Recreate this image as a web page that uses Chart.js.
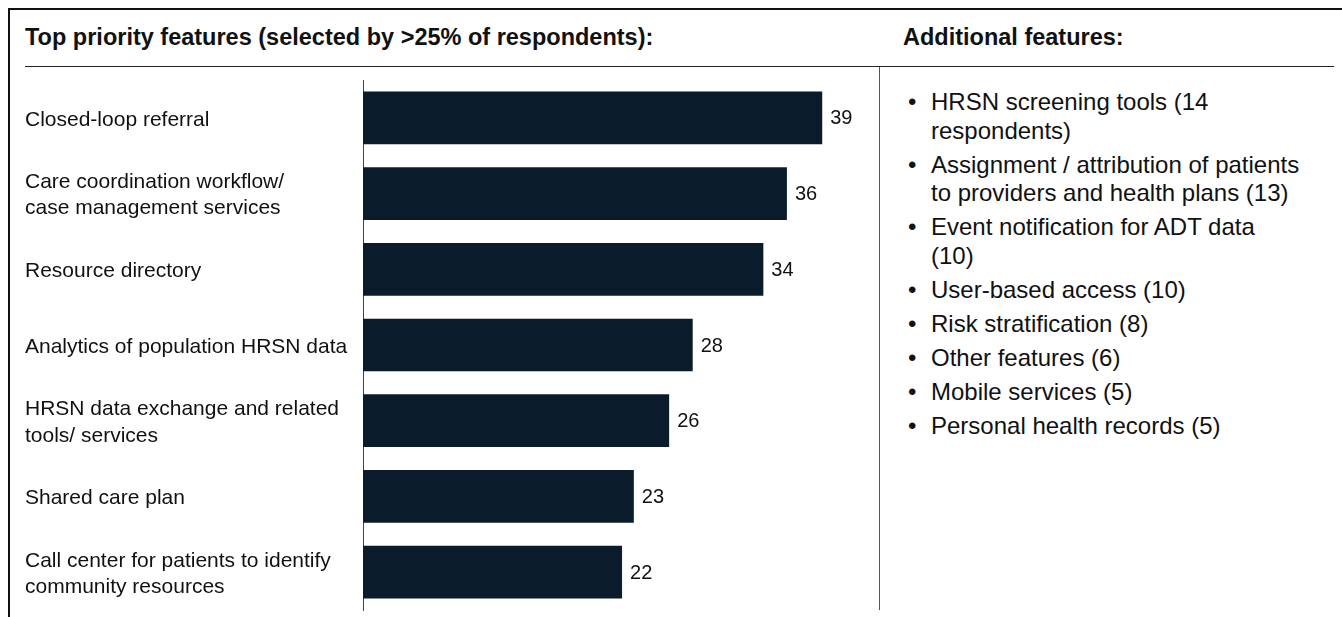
<!DOCTYPE html>
<html>
<head>
<meta charset="utf-8">
<script src="https://cdn.jsdelivr.net/npm/chart.js@4.4.1/dist/chart.umd.min.js"></script>
<title>Features</title>
<style>
  body { margin: 0; background: #fff; font-family: "Liberation Sans", Arial, sans-serif; color: #111; }
  #page { position: relative; width: 1342px; height: 617px; overflow: hidden; }
  #frame { position: absolute; left: 8px; top: 8px; right: -10px; bottom: -10px;
           border-top: 2px solid #111; border-left: 2px solid #111; }
  .head { position: absolute; top: 26px; font-size: 23.5px; line-height: 23px; font-weight: bold; white-space: nowrap; }
  #rule { position: absolute; left: 25px; top: 66px; width: 1309px; height: 1px; background: #222; }
  #divider { position: absolute; left: 879px; top: 67px; width: 1px; height: 543px; background: #555; }
  #chartBox { position: absolute; left: 0; top: 0; }
  #extra { position: absolute; left: 931px; top: 88px; margin: 0; padding: 0; list-style: none;
           font-size: 24px; line-height: 28.5px; white-space: nowrap; }
  #extra li { position: relative; margin-bottom: 5.5px; }
  #extra li::before { content: "\2022"; position: absolute; left: -23px; }
</style>
</head>
<body>
<div id="page">
  <div id="frame"></div>
  <div class="head" style="left:25px">Top priority features (selected by &gt;25% of respondents):</div>
  <div class="head" style="left:903px">Additional features:</div>
  <div id="rule"></div>
  <div id="divider"></div>
  <canvas id="chartBox" width="880" height="617"></canvas>
  <ul id="extra"></ul>
</div>

<script>
// top features, counts of respondents
var labels = [
    'Closed-loop referral',
    ['Care coordination workflow/', 'case management services'],
    'Resource directory',
    'Analytics of population HRSN data',
    ['HRSN data exchange and related', 'tools/ services'],
    'Shared care plan',
    ['Call center for patients to identify', 'community resources']
];
var counts = [39, 36, 34, 28, 26, 23, 22];

// other features listed on the right (\n = line break)
var extraFeatures = [
    'HRSN screening tools (14\nrespondents)',
    'Assignment / attribution of patients\nto providers and health plans (13)',
    'Event notification for ADT data\n(10)',
    'User-based access (10)',
    'Risk stratification (8)',
    'Other features (6)',
    'Mobile services (5)',
    'Personal health records (5)'
];

var list = document.getElementById('extra');
extraFeatures.forEach(function (txt) {
    var li = document.createElement('li');
    txt.split('\n').forEach(function (line, k) {
        if (k > 0) li.appendChild(document.createElement('br'));
        li.appendChild(document.createTextNode(line));
    });
    list.appendChild(li);
});

// value next to the end of each bar
var barValues = {
    id: 'barValues',
    afterDatasetsDraw: function (chart) {
        var ctx = chart.ctx;
        var meta = chart.getDatasetMeta(0);
        ctx.save();
        ctx.font = '20px "Liberation Sans", Arial, sans-serif';
        ctx.fillStyle = '#111';
        ctx.textAlign = 'left';
        ctx.textBaseline = 'middle';
        meta.data.forEach(function (bar, i) {
            ctx.fillText(chart.data.datasets[0].data[i], bar.x + 8, bar.y + 1);
        });
        ctx.restore();
    }
};

var myChart = new Chart(document.getElementById('chartBox'), {
    type: 'bar',
    data: {
        labels: labels,
        datasets: [{
            data: counts,
            backgroundColor: '#0a1c2b',
            borderWidth: 0,
            categoryPercentage: 1,
            barPercentage: 0.696
        }]
    },
    options: {
        indexAxis: 'y',
        responsive: false,
        animation: false,
        layout: { padding: { left: 25, top: 80, bottom: 7, right: 46 } },
        plugins: {
            legend: { display: false },
            tooltip: { enabled: false }
        },
        scales: {
            x: { display: false, min: 0, max: 40 },
            y: {
                grid: { display: false },
                border: { display: true, color: '#444', width: 1 },
                ticks: {
                    crossAlign: 'far',
                    color: '#111',
                    labelOffset: 2,
                    font: { family: '"Liberation Sans", Arial, sans-serif', size: 21, lineHeight: 1.24 }
                },
                afterFit: function (scale) {
                    scale.width = 338;
                    // no extra room for the overhanging labels
                    scale.paddingTop = 0;
                    scale.paddingBottom = 0;
                }
            }
        }
    },
    plugins: [barValues]
});
</script>
</body>
</html>
